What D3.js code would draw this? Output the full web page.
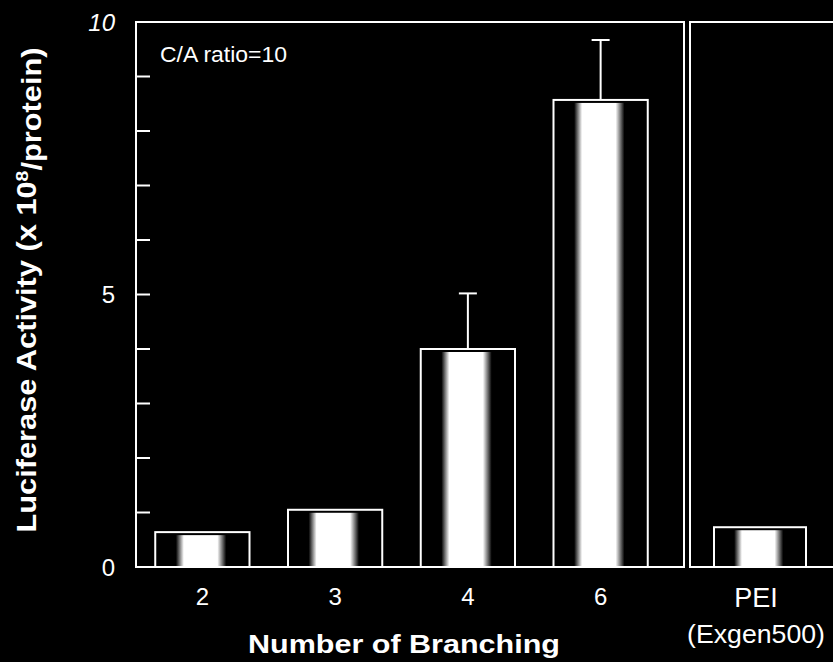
<!DOCTYPE html>
<html>
<head>
<meta charset="utf-8">
<script src="https://cdn.jsdelivr.net/npm/d3@7"></script>
<style>
  body { margin: 0; background: #000; }
  svg { display: block; font-family: "Liberation Sans", Arial, Helvetica, sans-serif; }
</style>
</head>
<body>
<div id="chart"></div>
<script>
// data
const branching = ['2', '3', '4', '6'];
const activity = [0.64, 1.05, 4.0, 8.57];
const errorTop = [null, null, 5.02, 9.67];
const peiLabel = ['PEI'];
const peiActivity = [0.73];
const yTicksMajor = [0, 5, 10];
const yTicksMinor = [1, 2, 3, 4, 6, 7, 8, 9];

const width = 833, height = 662;
const plot = { left: 136, right: 684, top: 22, bottom: 567 };
const pei = { left: 690, right: 833 };

const svg = d3.select('#chart').append('svg')
    .attr('width', width)
    .attr('height', height);

svg.append('rect').attr('width', width).attr('height', height).attr('fill', '#000');

// horizontal glow used inside every bar
const grad = svg.append('defs').append('linearGradient')
    .attr('id', 'glow')
    .attr('x1', '0%').attr('x2', '100%').attr('y1', '0%').attr('y2', '0%');
[[0, '#000'], [0.2, '#000'], [0.29, '#fff'], [0.67, '#fff'], [0.77, '#000'], [1, '#000']]
    .forEach(([o, c]) => grad.append('stop').attr('offset', o).attr('stop-color', c));

const y = d3.scaleLinear().domain([0, 10]).range([plot.bottom, plot.top]);

const x = d3.scaleBand()
    .domain(branching)
    .range([plot.left, 667])
    .paddingInner(0.29)
    .paddingOuter(0.145);

const xPei = d3.scaleBand()
    .domain(peiLabel)
    .range([714, 806]);

// panel frames
svg.append('rect')
    .attr('x', plot.left).attr('y', plot.top)
    .attr('width', plot.right - plot.left).attr('height', plot.bottom - plot.top)
    .attr('fill', 'none').attr('stroke', '#fff').attr('stroke-width', 2);

svg.append('path')
    .attr('d', `M${pei.right + 2},${plot.top}H${pei.left}V${plot.bottom}H${pei.right + 2}`)
    .attr('fill', 'none').attr('stroke', '#fff').attr('stroke-width', 2);

// y axis ticks (inside)
const yAxis = svg.append('g').attr('class', 'y axis');
yAxis.selectAll('.tick-mark')
    .data(yTicksMajor.concat(yTicksMinor))
    .enter().append('line')
    .attr('x1', plot.left).attr('x2', plot.left + 14)
    .attr('y1', d => y(d)).attr('y2', d => y(d))
    .attr('stroke', '#fff').attr('stroke-width', 2);

yAxis.selectAll('.tick-label')
    .data(yTicksMajor)
    .enter().append('text')
    .attr('x', 115)
    .attr('y', d => y(d))
    .attr('dy', '0.36em')
    .attr('text-anchor', 'end')
    .attr('fill', '#fff')
    .style('font-size', '24px')
    .style('font-style', d => d === 10 ? 'italic' : 'normal')
    .text(d => d);

// bars
function drawBars(cats, vals, scale) {
    const g = svg.append('g');
    const w = scale.bandwidth();
    g.selectAll('.glow')
        .data(vals)
        .enter().append('rect')
        .attr('x', (d, i) => scale(cats[i]) + 3)
        .attr('y', d => y(d) + 3)
        .attr('width', w - 6)
        .attr('height', d => y(0) - y(d) - 3)
        .attr('fill', 'url(#glow)');
    g.selectAll('.bar')
        .data(vals)
        .enter().append('rect')
        .attr('class', 'bar')
        .attr('x', (d, i) => scale(cats[i]))
        .attr('y', d => y(d))
        .attr('width', w)
        .attr('height', d => y(0) - y(d))
        .attr('fill', 'none')
        .attr('stroke', '#fff')
        .attr('stroke-width', 2);
}
drawBars(branching, activity, x);
drawBars(peiLabel, peiActivity, xPei);

// error bars (upper only)
const err = svg.append('g');
branching.forEach((c, i) => {
    if (errorTop[i] == null) return;
    const cx = x(c) + x.bandwidth() / 2;
    err.append('line')
        .attr('x1', cx).attr('x2', cx)
        .attr('y1', y(activity[i])).attr('y2', y(errorTop[i]))
        .attr('stroke', '#fff').attr('stroke-width', 2);
    err.append('line')
        .attr('x1', cx - 9).attr('x2', cx + 9)
        .attr('y1', y(errorTop[i])).attr('y2', y(errorTop[i]))
        .attr('stroke', '#fff').attr('stroke-width', 2);
});

// x tick labels
svg.selectAll('.x-label')
    .data(branching)
    .enter().append('text')
    .attr('x', d => x(d) + x.bandwidth() / 2)
    .attr('y', 605)
    .attr('text-anchor', 'middle')
    .attr('fill', '#fff')
    .style('font-size', '24px')
    .text(d => d);

const peiX = xPei(peiLabel[0]) + xPei.bandwidth() / 2;
svg.append('text')
    .attr('x', peiX - 4)
    .attr('y', 607)
    .attr('text-anchor', 'middle')
    .attr('fill', '#fff')
    .style('font-size', '27px')
    .text('PEI');

svg.append('text')
    .attr('x', 756)
    .attr('y', 643)
    .attr('text-anchor', 'middle')
    .attr('fill', '#fff')
    .style('font-size', '25px')
    .attr('textLength', 138)
    .attr('lengthAdjust', 'spacingAndGlyphs')
    .text('(Exgen500)');

// annotation
svg.append('text')
    .attr('x', 160).attr('y', 62)
    .attr('fill', '#fff')
    .style('font-size', '22px')
    .attr('textLength', 127)
    .attr('lengthAdjust', 'spacingAndGlyphs')
    .text('C/A ratio=10');

// axis titles
svg.append('text')
    .attr('x', 404).attr('y', 653)
    .attr('text-anchor', 'middle')
    .attr('fill', '#fff')
    .style('font-size', '26px')
    .style('font-weight', 'bold')
    .attr('textLength', 312)
    .attr('lengthAdjust', 'spacingAndGlyphs')
    .text('Number of Branching');

const yt = svg.append('text')
    .attr('transform', 'translate(36,290) rotate(-90)')
    .attr('text-anchor', 'middle')
    .attr('fill', '#fff')
    .style('font-size', '27px')
    .style('font-weight', 'bold')
    .attr('textLength', 485)
    .attr('lengthAdjust', 'spacingAndGlyphs');
yt.append('tspan').text('Luciferase Activity (x 10');
yt.append('tspan').attr('dy', '-0.45em').style('font-size', '17px').text('8');
yt.append('tspan').attr('dy', '0.45em').text('/protein)');
</script>
</body>
</html>
